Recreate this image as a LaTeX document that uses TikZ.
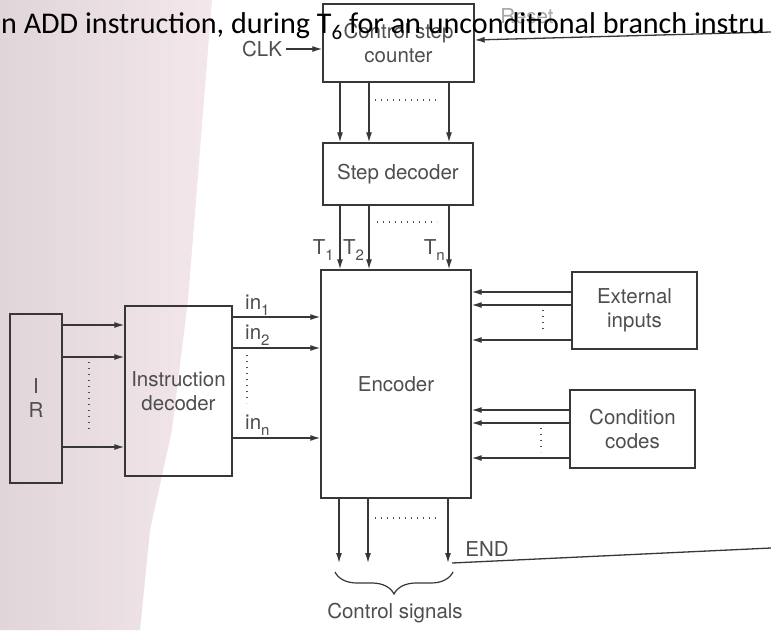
\documentclass[tikz,border=0pt]{standalone}
\usepackage{fontspec}
\setmainfont{TeX Gyre Heros}
\newfontfamily\notefont{Carlito}
\usetikzlibrary{arrows.meta,decorations.pathreplacing}
\definecolor{scanpink}{RGB}{224,213,216}
\definecolor{scanpinklight}{RGB}{243,231,236}
\definecolor{ink}{RGB}{55,55,55}
\definecolor{inktext}{RGB}{78,78,78}
\newcommand{\lowsub}[1]{\raisebox{-0.3em}{\fontsize{15}{15}\selectfont #1}}

\begin{document}
\begin{tikzpicture}[x=1pt,y=-1pt,
	block/.style={draw=ink,line width=1.4pt,inner sep=0pt,text=inktext,align=center,font=\fontsize{20.5}{24}\selectfont},
	sig/.style={draw=ink,line width=1.3pt,-{Latex[length=10pt,width=6pt]}},
	dots/.style={draw=inktext,line width=1.1pt,dash pattern=on 1pt off 5pt},
	lbl/.style={text=inktext,inner sep=0pt,font=\fontsize{20.5}{24}\selectfont}]
	\useasboundingbox (0,0) rectangle (771,630);
	\fill[white] (0,0) rectangle (771,630);
	\begin{scope}
		\clip (0,0) -- (212,0) -- (200,150) -- (188,300) -- (172,430) -- (150,530) -- (140,630) -- (0,630) -- cycle;
		\shade[left color=scanpink,right color=scanpinklight] (0,0) rectangle (212,630);
	\end{scope}
	% blocks
	\node[block,minimum width=151pt,minimum height=78pt] (cnt) at (398.5,43) {Control step\\counter};
	\node[block,minimum width=150pt,minimum height=62pt] (sdec) at (398,174) {Step decoder};
	\node[block,minimum width=150pt,minimum height=228pt] (enc) at (396,384) {Encoder};
	\node[block,minimum width=107pt,minimum height=170pt] (idec) at (178.5,391) {Instruction\\decoder};
	\node[block,minimum width=52pt,minimum height=169pt] (ir) at (36,398.5) {I\\R};
	\node[block,minimum width=125pt,minimum height=77pt] (ext) at (634.5,310.5) {External\\inputs};
	\node[block,minimum width=125pt,minimum height=78pt] (cond) at (632.5,429) {Condition\\codes};
	% clock and reset
	\node[lbl,inner xsep=4pt] (clk) at (262,49) {CLK};
	\draw[sig] (clk.east) -- (cnt.west |- clk.east);
	\node[lbl,text=black!35] (rstlbl) at (527,16) {Reset};
	\coordinate (rst) at (771,32);
	\draw[sig] (rst) -- (cnt.east |- 0,40);
	% counter -> step decoder -> encoder
	\foreach \x in {340,369,449} \draw[sig] (\x,0 |- cnt.south) -- (\x,0 |- sdec.north);
	\draw[dots] (375,100) -- (440,100);
	\foreach \x in {340,369,449} \draw[sig] (\x,0 |- sdec.south) -- (\x,0 |- enc.north);
	\draw[dots] (377,222) -- (437,222);
	\node[lbl,anchor=base east] (t1) at (334,254) {T\lowsub{1}};
	\node[lbl,anchor=base west] (t2) at (343,254) {T\lowsub{2}};
	\node[lbl,anchor=base east] (tn) at (445,254) {T\lowsub{n}};
	% IR -> instruction decoder -> encoder
	\foreach \y in {325,357,447} \draw[sig] (ir.east |- 0,\y) -- (idec.west |- 0,\y);
	\draw[dots] (89,362) -- (89,433);
	\foreach \y in {317,348,438} \draw[sig] (idec.east |- 0,\y) -- (enc.west |- 0,\y);
	\draw[dots] (247,355) -- (247,403);
	\node[lbl,anchor=base west] (in1) at (245,309) {in\lowsub{1}};
	\node[lbl,anchor=base west] (in2) at (245,339) {in\lowsub{2}};
	\node[lbl,anchor=base west] (inn) at (245,429) {in\lowsub{n}};
	% external inputs and condition codes
	\foreach \y in {292,305,340} \draw[sig] (ext.west |- 0,\y) -- (enc.east |- 0,\y);
	\draw[dots] (543,310) -- (543,333);
	\foreach \y in {410,423,458} \draw[sig] (cond.west |- 0,\y) -- (enc.east |- 0,\y);
	\draw[dots] (541,428) -- (541,452);
	% control signals
	\foreach \x [count=\i] in {339,368,448} {\coordinate (ctl\i) at (\x,563); \draw[sig] (\x,0 |- enc.south) -- (ctl\i);}
	\draw[dots] (375,518) -- (437,518);
	\coordinate (endl) at (452,563);
	\coordinate (endr) at (771,548);
	\draw[ink,line width=1.3pt] (endl) -- (endr);
	\node[lbl] (endlbl) at (487,549) {END};
	\coordinate (bl) at (335,572);
	\coordinate (br) at (453,572);
	\draw[ink,line width=1.2pt,decorate,decoration={brace,mirror,amplitude=22pt}] (bl) -- (br);
	\node[lbl] (ctrl) at (395,613) {Control signals};
	% note over the top
	\node[anchor=base west,inner sep=0pt,font=\notefont\fontsize{30.1}{36}\selectfont] (note) at (1,33) {n ADD instruction, during T\raisebox{-6pt}{\fontsize{21}{21}\selectfont 6} for an unconditional branch instru};
\end{tikzpicture}
\end{document}
